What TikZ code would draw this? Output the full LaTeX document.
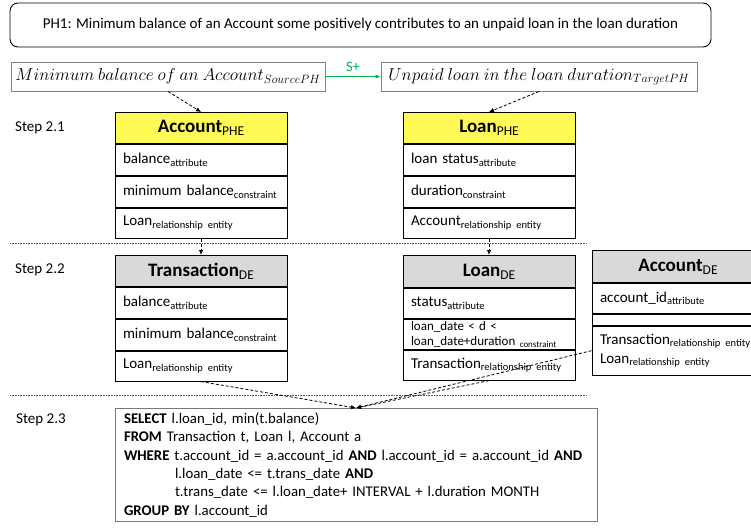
\documentclass[tikz,border=0pt]{standalone}
\usepackage{fontspec}
\setmainfont{Carlito}
\usetikzlibrary{arrows.meta}

\definecolor{pheyellow}{RGB}{255,250,85}
\definecolor{degray}{RGB}{217,217,217}
\definecolor{splus}{RGB}{0,176,80}
\definecolor{phframe}{RGB}{130,130,130}
\definecolor{sqlframe}{RGB}{120,120,120}
\definecolor{sepline}{RGB}{68,84,106}

% lowered small label after a word
\newcommand\lowsub[2][10.5]{\raisebox{-0.35ex}{\fontsize{#1}{#1}\selectfont #2}}

\tikzset{
  ebox/.style={draw, line width=0.9pt, minimum width=172pt, inner sep=0pt, anchor=north},
  hdr/.style={ebox, minimum height=31pt, font=\fontsize{19}{22}\selectfont},
  fld/.style={ebox, minimum height=31pt, text width=156pt, inner xsep=8pt, align=left,
              font=\fontsize{15}{19}\selectfont},
  phbox/.style={draw=phframe, line width=0.9pt, minimum height=29pt, inner sep=0pt,
                font=\fontsize{17}{20}\selectfont},
  steplbl/.style={anchor=west, inner sep=0pt, font=\fontsize{15}{18}\selectfont},
  dasharrow/.style={draw, line width=0.8pt, dash pattern=on 3pt off 2pt,
                    -{Latex[length=5pt,width=4.5pt]}},
  sepdots/.style={draw=sepline, line width=0.6pt, dash pattern=on 0.8pt off 0.8pt},
}

\begin{document}
\begin{tikzpicture}[x=1pt, y=-1pt]
\useasboundingbox (0,0) rectangle (751,527);
\clip (0,0) rectangle (751,527);

% hypothesis statement
\node[draw, line width=0.9pt, rounded corners=8pt, minimum width=701pt, minimum height=44pt,
      font=\fontsize{15}{18}\selectfont] (ph) at (360.5,25)
  {PH1: Minimum balance of an Account some positively contributes to an unpaid loan in the loan duration};

% source and target phenomena
\node[phbox, minimum width=314pt] (src) at (168,76.5)
  {$Minimum\ balance\ of\ an\ Account_{SourcePH}$};
\node[phbox, minimum width=316pt] (tgt) at (539,76.5)
  {$Unpaid\ loan\ in\ the\ loan\ duration_{TargetPH}$};
\draw[splus, line width=1pt, -{Latex[length=5pt,width=4.5pt]}] (src.east) -- (tgt.west)
  node[midway, above=1pt, font=\fontsize{14.5}{16}\selectfont] (splbl) {S+};

% step labels
\node[steplbl] (s1) at (15,128) {Step 2.1};
\node[steplbl] (s2) at (15,270) {Step 2.2};
\node[steplbl] (s3) at (16,420) {Step 2.3};

% separators
\coordinate (sepAw) at (10,243);
\coordinate (sepAe) at (587,243);
\coordinate (sepBw) at (10,395);
\coordinate (sepBe) at (587,395);
\draw[sepdots] (sepAw) -- (sepAe);
\draw[sepdots] (sepBw) -- (sepBe);

% Step 2.1: phenomenon entities
\node[hdr, fill=pheyellow] (aH) at (201,112) {\textbf{Account}\lowsub[13.5]{PHE}};
\node[fld] (a1) at (aH.south) {balance\lowsub{attribute}};
\node[fld] (a2) at (a1.south) {minimum balance\lowsub{constraint}};
\node[fld, minimum height=30pt] (a3) at (a2.south) {Loan\lowsub{relationship entity}};

\node[hdr, fill=pheyellow] (lH) at (489,112) {\textbf{Loan}\lowsub[13.5]{PHE}};
\node[fld] (l1) at (lH.south) {loan status\lowsub{attribute}};
\node[fld] (l2) at (l1.south) {duration\lowsub{constraint}};
\node[fld, minimum height=30pt] (l3) at (l2.south) {Account\lowsub{relationship entity}};

% Step 2.2: data entities
\node[hdr, fill=degray] (tH) at (201,255) {\textbf{Transaction}\lowsub[13.5]{DE}};
\node[fld] (t1) at (tH.south) {balance\lowsub{attribute}};
\node[fld] (t2) at (t1.south) {minimum balance\lowsub{constraint}};
\node[fld, minimum height=30pt] (t3) at (t2.south) {Loan\lowsub{relationship entity}};
\draw[line width=1.8pt] (t2.north west) -- (t2.north east);

\node[hdr, fill=degray, minimum height=32pt] (dH) at (489,255) {\textbf{Loan}\lowsub[13.5]{DE}};
\node[fld, minimum height=30pt] (d1) at (dH.south) {status\lowsub{attribute}};
\node[fld, minimum height=30pt, font=\fontsize{13}{15}\selectfont] (d2) at (d1.south)
  {loan\_date < d <\\loan\_date+duration \lowsub[9]{constraint}};
\node[fld, minimum height=30pt] (d3) at (d2.south) {Transaction\lowsub{relationship entity}};

\node[hdr, fill=degray, minimum height=32pt] (cH) at (678,250) {\textbf{Account}\lowsub[13.5]{DE}};
\node[fld, minimum height=30pt] (c1) at (cH.south) {account\_id\lowsub{attribute}};
\node[fld, minimum height=11pt] (c2) at (c1.south) {};
\node[fld, minimum height=49pt] (c3) at (c2.south)
  {Transaction\lowsub{relationship entity}\\Loan\lowsub{relationship entity}};

% Step 2.3: query
\node[draw=sqlframe, line width=0.9pt, anchor=north, minimum width=482pt, minimum height=113pt,
      text width=464pt, inner xsep=9pt, inner ysep=0pt, align=left,
      font=\fontsize{14.8}{18.3}\selectfont] (sql) at (356,408)
  {\textbf{SELECT} l.loan\_id, min(t.balance)\\
   \textbf{FROM} Transaction t, Loan l, Account a\\
   \textbf{WHERE} t.account\_id = a.account\_id \textbf{AND} l.account\_id = a.account\_id \textbf{AND}\\
   \hspace*{51pt}l.loan\_date <= t.trans\_date \textbf{AND}\\
   \hspace*{51pt}t.trans\_date <= l.loan\_date+ INTERVAL + l.duration MONTH\\
   \textbf{GROUP BY} l.account\_id};

% derivation arrows
\draw[dasharrow] (src.south) -- (aH.north);
\draw[dasharrow] (tgt.south) -- (lH.north);
\draw[dasharrow] (a3.south) -- (tH.north);
\draw[dasharrow] (l3.south) -- (dH.north);
\draw[dasharrow] (t3.south) -- (sql.north);
\draw[dasharrow] (d3.south) -- (sql.north);
\draw[dasharrow] (c3.west) -- (sql.north);
\end{tikzpicture}
\end{document}
